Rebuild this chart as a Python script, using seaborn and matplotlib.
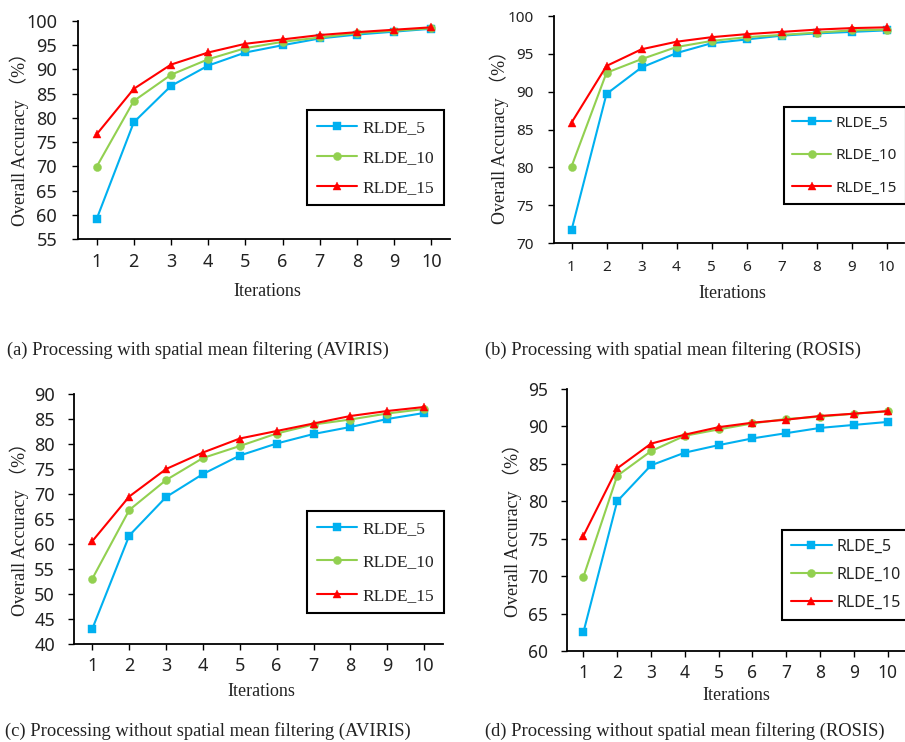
import matplotlib
matplotlib.use("Agg")
import matplotlib.pyplot as plt
import seaborn as sns
import pandas as pd

sns.set_theme(style="white")
plt.rcParams['font.family'] = ['Liberation Serif', 'Noto Sans CJK SC', 'DejaVu Sans']

iterations = [1, 2, 3, 4, 5, 6, 7, 8, 9, 10]
series_names = ["RLDE_5", "RLDE_10", "RLDE_15"]

a_rlde5 = [59.1, 79.1, 86.6, 90.8, 93.5, 95.0, 96.4, 97.2, 97.8, 98.4]
a_rlde10 = [69.9, 83.5, 88.9, 92.1, 94.4, 95.7, 96.6, 97.5, 98.0, 98.5]
a_rlde15 = [76.6, 86.0, 91.0, 93.5, 95.3, 96.2, 97.1, 97.7, 98.2, 98.7]

b_rlde5 = [71.7, 89.7, 93.2, 95.1, 96.4, 96.9, 97.4, 97.7, 97.9, 98.1]
b_rlde10 = [80.1, 92.5, 94.3, 95.9, 96.7, 97.2, 97.5, 97.8, 98.1, 98.2]
b_rlde15 = [85.9, 93.4, 95.6, 96.6, 97.2, 97.6, 97.9, 98.2, 98.4, 98.5]

c_rlde5 = [43.1, 61.7, 69.4, 74.0, 77.7, 80.1, 82.0, 83.4, 85.0, 86.2]
c_rlde10 = [53.1, 66.8, 72.8, 77.2, 79.6, 82.1, 83.9, 84.9, 86.1, 87.0]
c_rlde15 = [60.6, 69.5, 75.0, 78.3, 81.1, 82.6, 84.1, 85.6, 86.6, 87.4]

d_rlde5 = [62.5, 80.0, 84.8, 86.5, 87.5, 88.4, 89.1, 89.8, 90.2, 90.6]
d_rlde10 = [69.9, 83.4, 86.7, 88.75, 89.6, 90.4, 91.0, 91.3, 91.7, 92.0]
d_rlde15 = [75.4, 84.4, 87.7, 88.9, 89.9, 90.5, 90.9, 91.4, 91.7, 92.05]

captions = [
    "(a) Processing with spatial mean filtering (AVIRIS)",
    "(b) Processing with spatial mean filtering (ROSIS)",
    "(c) Processing without spatial mean filtering (AVIRIS)",
    "(d) Processing without spatial mean filtering (ROSIS)",
]
y_ticks = [
    list(range(55, 101, 5)),
    list(range(70, 101, 5)),
    list(range(40, 91, 5)),
    list(range(60, 96, 5)),
]

colors = ["#00B0F0", "#92D050", "#FF0000"]
markers = ["s", "o", "^"]

W, H = 905, 742
fig = plt.figure(figsize=(W / 100, H / 100), dpi=100)
fig.patch.set_facecolor("white")

def add_ax(l, t, r, b):
    return fig.add_axes([l / W, 1 - b / H, (r - l) / W, (b - t) / H])

panels = [
    dict(data=[a_rlde5, a_rlde10, a_rlde15], box=(78, 21, 450, 239), tick_fs=13,
         leg=(307, 110), leg_fs=12.5, leg_font='Liberation Serif', leg_sp=0.8, hl=2.35,
         ylab=(19, 135), xlab=(267, 292), lab_fs=13, ypad=11, xpad=6),
    dict(data=[b_rlde5, b_rlde10, b_rlde15], box=(554, 16, 904, 243), tick_fs=11,
         leg=(784, 107), leg_fs=11, leg_font='Noto Sans', leg_sp=1.15, hl=2.55,
         ylab=(499, 133), xlab=(732, 293), lab_fs=13, ypad=10.4, xpad=8),
    dict(data=[c_rlde5, c_rlde10, c_rlde15], box=(74, 394, 442.5, 644), tick_fs=13,
         leg=(307, 511), leg_fs=12.5, leg_font='Liberation Serif', leg_sp=1.0, hl=2.35,
         ylab=(19, 525), xlab=(261, 691), lab_fs=13, ypad=9.7, xpad=5.5),
    dict(data=[d_rlde5, d_rlde10, d_rlde15], box=(566.5, 389, 904.5, 651), tick_fs=12.5,
         leg=(782, 530), leg_fs=11.5, leg_font='Noto Sans', leg_sp=0.75, hl=2.55,
         ylab=(512, 526), xlab=(736, 696), lab_fs=13, ypad=9, xpad=5),
]

for i, p in enumerate(panels):
    l, t, r, b = p["box"]
    ax = add_ax(l, t, r, b)
    rows = []
    for name, vals in zip(series_names, p["data"]):
        for it, v in zip(iterations, vals):
            rows.append({"Iterations": it, "OA": v, "Method": name})
    df = pd.DataFrame(rows)
    sns.lineplot(data=df, x="Iterations", y="OA", hue="Method", style="Method",
                 markers=markers, dashes=False, palette=colors, ax=ax,
                 linewidth=1.5, markersize=5.8, markeredgewidth=0.3, legend=False)
    for line, c in zip(ax.lines, colors):
        line.set_markeredgecolor(c)
    yt = y_ticks[i]
    ax.set_xlim(0.5, 10.5)
    ax.set_ylim(yt[0], yt[-1])
    ax.set_xticks(iterations)
    ax.set_yticks(yt)
    ax.set_xticklabels([str(v) for v in iterations], fontfamily='Noto Sans', fontsize=p["tick_fs"])
    ax.set_yticklabels([str(v) for v in yt], fontfamily='Noto Sans', fontsize=p["tick_fs"])
    ax.tick_params(axis='both', direction='out', length=4, width=1, colors='black', bottom=True, left=True)
    ax.tick_params(axis='y', pad=p["ypad"], labelcolor='#222222')
    ax.tick_params(axis='x', pad=p["xpad"], labelcolor='#222222')
    for s in ["top", "right"]:
        ax.spines[s].set_visible(False)
    for s in ["left", "bottom"]:
        ax.spines[s].set_color("black")
        ax.spines[s].set_linewidth(1.3)
    ax.grid(False)
    ax.set_facecolor("white")
    ax.set_xlabel("Iterations", fontsize=p["lab_fs"], family=['Liberation Serif'], color='#222222')
    ax.set_ylabel("Overall Accuracy （%）", fontsize=p["lab_fs"],
                  family=['Liberation Serif', 'Noto Sans CJK SC'], color='#222222')
    xl, yl = p["xlab"]
    ax.xaxis.set_label_coords((xl - l) / (r - l), (b - yl) / (b - t))
    ax.xaxis.label.set_va('center')
    yx, yy = p["ylab"]
    ax.yaxis.set_label_coords((yx - l) / (r - l), (b - yy) / (b - t))
    ax.yaxis.label.set_va('center')
    handles = ax.lines[:3]
    lx, ly = p["leg"]
    leg = ax.legend(handles, series_names, loc="upper left",
                    bbox_to_anchor=(lx / W, 1 - ly / H), bbox_transform=fig.transFigure,
                    borderaxespad=0, frameon=True, fancybox=False, edgecolor="black",
                    prop={'family': p["leg_font"], 'size': p["leg_fs"]},
                    handlelength=p["hl"], labelspacing=p["leg_sp"], borderpad=0.55,
                    handletextpad=0.3, framealpha=1)
    leg.get_frame().set_linewidth(1.5)
    for txt in leg.get_texts():
        txt.set_color('#222222')

cap_pos = [(7, 350), (485, 350), (5, 731), (485, 731)]
for cap, (cx, cy) in zip(captions, cap_pos):
    fig.text(cx / W, 1 - cy / H, cap, ha="left", va="center", fontsize=13.3,
             family=['Liberation Serif'], color='#222222')

fig.savefig("out.png", dpi=100, facecolor="white")
